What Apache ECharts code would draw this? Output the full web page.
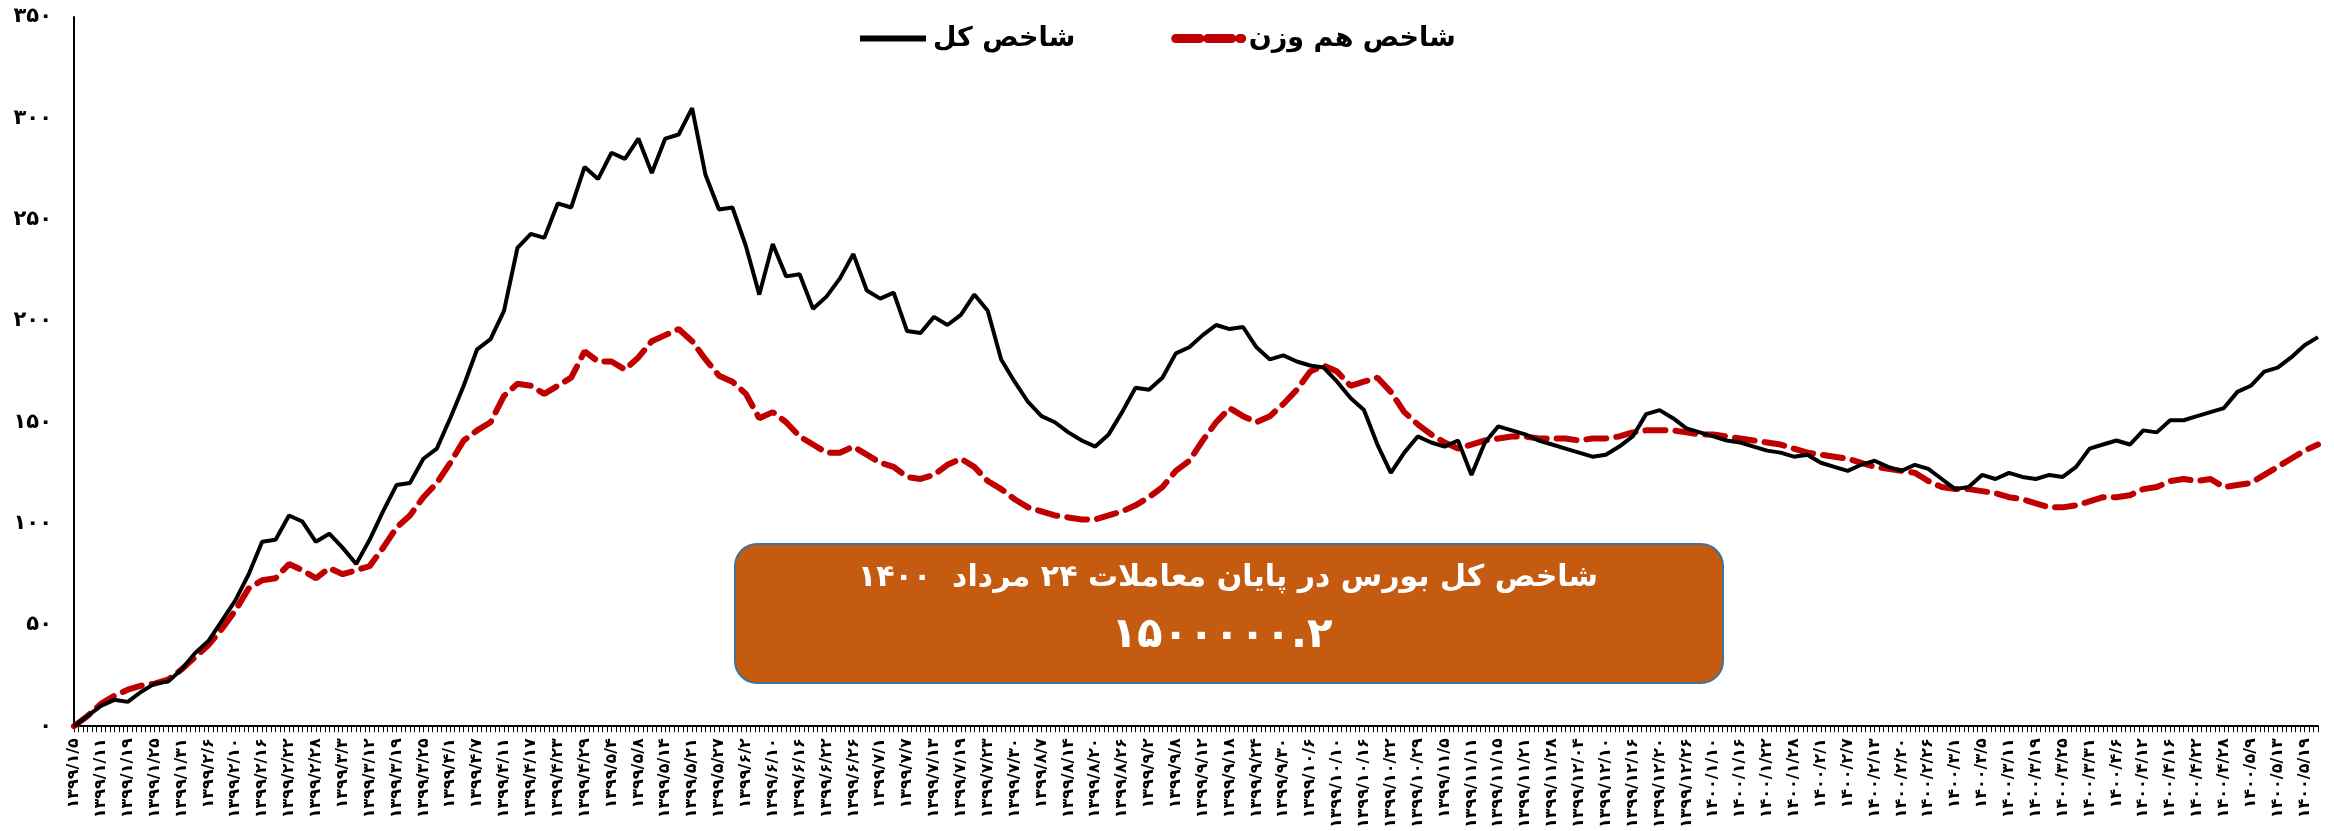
<!DOCTYPE html>
<html>
<head>
<meta charset="utf-8">
<script src="https://cdn.jsdelivr.net/npm/echarts@6/dist/echarts.min.js"></script>
<style>
html,body{margin:0;padding:0;background:#fff;}
#chart{width:2334px;height:831px;}
</style>
</head>
<body>
<div id="chart"></div>
<script>
// Visible x-axis tick labels (every 6th trading-day category)
const tickLabels = [
'۱۳۹۹/۱/۵','۱۳۹۹/۱/۱۱','۱۳۹۹/۱/۱۹','۱۳۹۹/۱/۲۵','۱۳۹۹/۱/۳۱','۱۳۹۹/۲/۶','۱۳۹۹/۲/۱۰','۱۳۹۹/۲/۱۶','۱۳۹۹/۲/۲۲','۱۳۹۹/۲/۲۸','۱۳۹۹/۳/۳','۱۳۹۹/۳/۱۲','۱۳۹۹/۳/۱۹','۱۳۹۹/۳/۲۵','۱۳۹۹/۴/۱','۱۳۹۹/۴/۷',
'۱۳۹۹/۴/۱۱','۱۳۹۹/۴/۱۷','۱۳۹۹/۴/۲۳','۱۳۹۹/۴/۲۹','۱۳۹۹/۵/۴','۱۳۹۹/۵/۸','۱۳۹۹/۵/۱۴','۱۳۹۹/۵/۲۱','۱۳۹۹/۵/۲۷','۱۳۹۹/۶/۲','۱۳۹۹/۶/۱۰','۱۳۹۹/۶/۱۶','۱۳۹۹/۶/۲۲','۱۳۹۹/۶/۲۶','۱۳۹۹/۷/۱','۱۳۹۹/۷/۷','۱۳۹۹/۷/۱۳','۱۳۹۹/۷/۱۹',
'۱۳۹۹/۷/۲۳','۱۳۹۹/۷/۳۰','۱۳۹۹/۸/۷','۱۳۹۹/۸/۱۴','۱۳۹۹/۸/۲۰','۱۳۹۹/۸/۲۶','۱۳۹۹/۹/۲','۱۳۹۹/۹/۸','۱۳۹۹/۹/۱۲','۱۳۹۹/۹/۱۸','۱۳۹۹/۹/۲۴','۱۳۹۹/۹/۳۰','۱۳۹۹/۱۰/۶','۱۳۹۹/۱۰/۱۰','۱۳۹۹/۱۰/۱۶','۱۳۹۹/۱۰/۲۲','۱۳۹۹/۱۰/۲۹',
'۱۳۹۹/۱۱/۵','۱۳۹۹/۱۱/۱۱','۱۳۹۹/۱۱/۱۵','۱۳۹۹/۱۱/۲۱','۱۳۹۹/۱۱/۲۸','۱۳۹۹/۱۲/۰۴','۱۳۹۹/۱۲/۱۰','۱۳۹۹/۱۲/۱۶','۱۳۹۹/۱۲/۲۰','۱۳۹۹/۱۲/۲۶','۱۴۰۰/۱/۱۰','۱۴۰۰/۱/۱۶','۱۴۰۰/۱/۲۲','۱۴۰۰/۱/۲۸','۱۴۰۰/۲/۱','۱۴۰۰/۲/۷','۱۴۰۰/۲/۱۳',
'۱۴۰۰/۲/۲۰','۱۴۰۰/۲/۲۶','۱۴۰۰/۳/۱','۱۴۰۰/۳/۵','۱۴۰۰/۳/۱۱','۱۴۰۰/۳/۱۹','۱۴۰۰/۳/۲۵','۱۴۰۰/۳/۳۱','۱۴۰۰/۴/۶','۱۴۰۰/۴/۱۲','۱۴۰۰/۴/۱۶','۱۴۰۰/۴/۲۲','۱۴۰۰/۴/۲۸','۱۴۰۰/۵/۹','۱۴۰۰/۵/۱۳','۱۴۰۰/۵/۱۹'
];

// Total index (شاخص کل), read every 3rd category
const totalIndex = [
0,5,10,13,12,17,21,22,28,36,42,52,62,75,91,92,104,101,91,95,
88,80,92,106,119,120,132,137,152,168,186,191,205,236,243,241,258,256,276,270,
283,280,290,273,290,292,305,272,255,256,237,213,238,222,223,206,212,221,233,215,
211,214,195,194,202,198,203,213,205,181,170,160,153,150,145,141,138,144,155,167,
166,172,184,187,193,198,196,197,187,181,183,180,178,177,170,162,156,139,125,135,
143,140,138,141,124,140,148,146,144,141,139,137,135,133,134,138,143,154,156,152,
147,145,143,141,140,138,136,135,133,134,130,128,126,129,131,128,126,129,127,122,
117,118,124,122,125,123,122,124,123,128,137,139,141,139,146,145,151,151,153,155,
157,165,168,175,177,182,188,192
];

// Equal-weight index (شاخص هم وزن), read every 3rd category
const equalWeight = [
0,5,11,15,18,20,21,23,28,34,40,48,57,68,72,73,80,77,73,78,
75,77,79,88,98,104,113,120,130,141,146,150,163,169,168,164,168,172,185,180,
180,176,182,190,193,196,190,181,173,170,164,152,155,150,143,139,135,135,138,134,
130,128,123,122,124,129,132,128,121,117,112,108,106,104,103,102,102,104,106,109,
113,118,126,131,141,150,157,153,150,153,159,166,175,178,175,168,170,172,165,155,
149,144,140,137,139,141,142,143,143,142,142,142,141,142,142,143,145,146,146,146,
145,144,144,143,142,141,140,139,137,135,134,133,132,130,128,127,126,125,121,118,
117,117,116,115,113,112,110,108,108,109,111,113,113,114,117,118,121,122,121,122,
118,119,120,124,128,132,136,139
];

const yTicks = [0,50,100,150,200,250,300,350];

const LABEL_STEP = 6, SAMPLE_STEP = 3;
const N = (totalIndex.length - 1) * SAMPLE_STEP + 1;
const categories = Array.from({length: N}, (_, i) =>
  (i % LABEL_STEP === 0 && tickLabels[i / LABEL_STEP]) ? tickLabels[i / LABEL_STEP] : '');
function spread(vals){
  const d = new Array(N).fill(null);
  vals.forEach((v, j) => { d[j * SAMPLE_STEP] = v; });
  return d;
}
const fa = s => String(s).replace(/\d/g, d => '۰۱۲۳۴۵۶۷۸۹'[+d]);

const FONT = "'DejaVu Sans'";
const chart = echarts.init(document.getElementById('chart'));
chart.setOption({
  animation: false,
  backgroundColor: '#ffffff',
  grid: {left: 74, right: 16, top: 17, bottom: 103, containLabel: false},
  legend: {
    left: 852, top: 20,
    itemWidth: 66, itemHeight: 12, itemGap: 96,
    itemStyle: {opacity: 0},
    textStyle: {fontFamily: FONT, fontWeight: 'bold', fontSize: 27, color: '#000', padding: [0, 0, 0, 2]},
    data: [
      {name: 'شاخص کل', lineStyle: {width: 6, color: '#000'}},
      {name: 'شاخص هم وزن', lineStyle: {width: 9, color: '#C00000', type: [24, 8], cap: 'round'}}
    ]
  },
  xAxis: {
    type: 'category',
    data: categories,
    boundaryGap: false,
    axisLine: {lineStyle: {color: '#000', width: 2}},
    axisTick: {interval: 0, length: 6, lineStyle: {color: '#000', width: 1}},
    axisLabel: {interval: LABEL_STEP - 1, rotate: 90, margin: 12, color: '#000',
      fontFamily: FONT, fontWeight: 'bold', fontSize: 16}
  },
  yAxis: {
    type: 'value', min: yTicks[0], max: yTicks[yTicks.length - 1], interval: 50,
    axisLine: {show: true, lineStyle: {color: '#000', width: 2}},
    axisTick: {show: false},
    splitLine: {show: false},
    axisLabel: {margin: 22, color: '#000', fontFamily: FONT, fontWeight: 'bold', fontSize: 21,
      formatter: v => fa(v)}
  },
  series: [
    {name: 'شاخص کل', type: 'line', data: spread(totalIndex), connectNulls: true,
     symbol: 'none', lineStyle: {color: '#000', width: 4}, itemStyle: {color: '#000'}, z: 3},
    {name: 'شاخص هم وزن', type: 'line', data: spread(equalWeight), connectNulls: true,
     symbol: 'none', lineStyle: {color: '#C00000', width: 6, type: [20, 10], cap: 'round'},
     itemStyle: {color: '#C00000'}, z: 2}
  ],
  graphic: [
    {type: 'rect', left: 734, top: 543, z: 10,
     shape: {width: 988, height: 139, r: 22},
     style: {fill: '#C55A11', stroke: '#41719C', lineWidth: 2}},
    {type: 'text', x: 1228, y: 578, z: 11,
     style: {text: 'شاخص کل بورس در پایان معاملات ۲۴ مرداد  ۱۴۰۰', fill: '#fff',
       font: "bold 30px 'DejaVu Sans'", align: 'center', verticalAlign: 'middle'}},
    {type: 'text', x: 1222, y: 636, z: 11,
     style: {text: '۱۵۰۰۰۰۰.۲', fill: '#fff',
       font: "bold 42px 'DejaVu Sans'", align: 'center', verticalAlign: 'middle'}}
  ]
});
</script>
</body>
</html>
